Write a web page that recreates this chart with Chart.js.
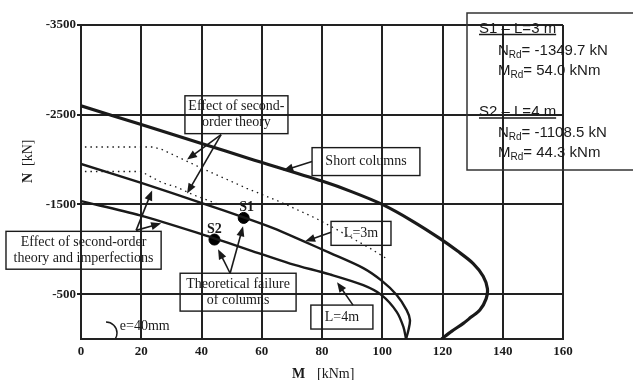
<!DOCTYPE html>
<html>
<head>
<meta charset="utf-8">
<script src="https://cdn.jsdelivr.net/npm/chart.js@4.4.0/dist/chart.umd.min.js"></script>
<style>
html, body { margin: 0; padding: 0; background: #fff; }
</style>
</head>
<body>
<canvas id="chart" width="633" height="380"></canvas>
<script>
// axis ticks
var mTicks = [0, 20, 40, 60, 80, 100, 120, 140, 160];
var nTicks = [-3500, -2500, -1500, -500];

// interaction curves (M in kNm, N in kN)
var shortM = [0, 20, 40, 56, 80, 90, 100, 110, 119.2, 125, 130.2, 133.5, 134.9, 134.5, 132.4, 129.5, 126.9, 123, 119.7];
var shortN = [-2600, -2390, -2180, -2010, -1760, -1640, -1500, -1315, -1119, -980, -841, -700, -563, -450, -322, -244, -174, -85, 0];

var l3M = [0, 20, 40.6, 54, 63.8, 73.8, 82.6, 93.7, 99.8, 104.8, 108.1, 109.2, 108.7, 107.9];
var l3N = [-1952, -1740, -1510, -1355, -1235, -1090, -960, -790, -650, -490, -322, -211, -100, 0];

var l4M = [0, 19.6, 39.5, 56.1, 69.4, 82.6, 93.7, 99.8, 104.8, 107, 107.9];
var l4N = [-1537, -1378, -1174, -989, -841, -720, -600, -489, -303, -137, 0];

// second-order theory (dotted)
var dotUpM = [1.3, 24, 27, 40, 55, 66, 78, 86, 96, 101];
var dotUpN = [-2140, -2140, -2110, -1905, -1680, -1530, -1345, -1200, -1010, -905];
var dotLoM = [1.3, 20, 22, 27, 32, 37, 45];
var dotLoN = [-1867, -1867, -1830, -1741, -1690, -1611, -1508];

// theoretical failure points
var failNames = ['S1', 'S2'];
var failM = [54.0, 44.3];
var failN = [-1349.7, -1108.5];

function pts(ms, ns) {
  return ms.map(function(m, i) { return { x: m, y: ns[i] }; });
}

var serif = '"Liberation Serif", "Times New Roman", serif';
var sans = '"Liberation Sans", Arial, sans-serif';
var ink = '#1a1a1a';

// annotation boxes and arrows, in data units
var boxes = [
  { m: [34.5, 68.7], n: [-2711, -2289], text: ['Effect of second-', 'order theory'],
    arrows: [[46.5, -2278, 35.2, -2000], [46.5, -2278, 35.2, -1622]] },
  { m: [76.7, 112.5], n: [-2133, -1822], text: ['Short columns'],
    arrows: [[76.7, -1978, 67.1, -1878]] },
  { m: [83.0, 102.9], n: [-1311, -1044], text: ['L=3m'],
    arrows: [[83.0, -1189, 74.4, -1089]] },
  { m: [76.3, 96.9], n: [-378, -111], text: ['L=4m'],
    arrows: [[90.3, -378, 85.0, -633]] },
  { m: [32.9, 71.4], n: [-733, -311], text: ['Theoretical failure', 'of columns'],
    arrows: [[49.5, -733, 45.5, -1000], [49.5, -733, 53.8, -1256]] },
  { m: [-24.9, 26.6], n: [-1200, -778], text: ['Effect of second-order', 'theory and imperfections'],
    arrows: [[18.3, -1211, 23.6, -1656], [18.3, -1211, 26.6, -1289]] }
];

function arrow(ctx, x1, y1, x2, y2) {
  var a = Math.atan2(y2 - y1, x2 - x1), L = 10, W = 4;
  ctx.beginPath();
  ctx.moveTo(x1, y1);
  ctx.lineTo(x2 - Math.cos(a) * L * 0.8, y2 - Math.sin(a) * L * 0.8);
  ctx.stroke();
  ctx.beginPath();
  ctx.moveTo(x2, y2);
  ctx.lineTo(x2 - Math.cos(a) * L - Math.sin(a) * W, y2 - Math.sin(a) * L + Math.cos(a) * W);
  ctx.lineTo(x2 - Math.cos(a) * L + Math.sin(a) * W, y2 - Math.sin(a) * L - Math.cos(a) * W);
  ctx.closePath();
  ctx.fill();
}

function subText(ctx, x, y, main, sub, rest) {
  ctx.font = '15px ' + sans;
  ctx.fillText(main, x, y);
  x += ctx.measureText(main).width;
  ctx.font = '10px ' + sans;
  ctx.fillText(sub, x, y + 3);
  x += ctx.measureText(sub).width;
  ctx.font = '15px ' + sans;
  ctx.fillText(rest, x, y);
}

function underlined(ctx, x, y, s) {
  ctx.font = '15px ' + sans;
  ctx.fillText(s, x, y);
  var w = ctx.measureText(s).width;
  ctx.beginPath();
  ctx.moveTo(x, y + 2);
  ctx.lineTo(x + w, y + 2);
  ctx.lineWidth = 1.3;
  ctx.stroke();
}

var notes = {
  id: 'notes',
  afterDraw: function(chart) {
    var ctx = chart.ctx, xs = chart.scales.x, ys = chart.scales.y;
    function px(m) { return xs.getPixelForValue(m); }
    function py(n) { return ys.getPixelForValue(n); }
    ctx.save();
    ctx.strokeStyle = ink;
    ctx.fillStyle = ink;

    // boxes + arrows
    boxes.forEach(function(b) {
      var x0 = px(b.m[0]), x1 = px(b.m[1]), y0 = py(b.n[0]), y1 = py(b.n[1]);
      ctx.lineWidth = 1.4;
      ctx.strokeRect(x0, y0, x1 - x0, y1 - y0);
      ctx.font = '14px ' + serif;
      ctx.textAlign = 'center';
      ctx.textBaseline = 'middle';
      var cy = (y0 + y1) / 2, lh = 16;
      b.text.forEach(function(t, i) {
        ctx.fillText(t, (x0 + x1) / 2, cy + (i - (b.text.length - 1) / 2) * lh);
      });
      ctx.lineWidth = 1.6;
      b.arrows.forEach(function(a) {
        arrow(ctx, px(a[0]), py(a[1]), px(a[2]), py(a[3]));
      });
    });

    // S1 / S2 labels
    ctx.font = 'bold 14px ' + serif;
    ctx.textAlign = 'center';
    ctx.textBaseline = 'alphabetic';
    failNames.forEach(function(s, i) {
      ctx.fillText(s, px(failM[i]) + (i === 0 ? 3 : 0), py(failN[i]) - 7);
    });

    // eccentricity note
    var ex = px(8.3), ey = py(-67);
    ctx.lineWidth = 1.5;
    ctx.beginPath();
    ctx.arc(ex, ey, 11, -Math.PI / 2, Math.PI / 6);
    ctx.stroke();
    ctx.font = '14px ' + serif;
    ctx.textAlign = 'left';
    ctx.fillText('e=40mm', px(12.9), py(-100));

    // axis titles
    ctx.textBaseline = 'alphabetic';
    ctx.font = 'bold 14px ' + serif;
    ctx.fillText('M', 292, 378);
    ctx.font = '14px ' + serif;
    ctx.fillText('[kNm]', 317, 378);
    ctx.save();
    ctx.translate(32, 183);
    ctx.rotate(-Math.PI / 2);
    ctx.font = 'bold 14px ' + serif;
    ctx.fillText('N', 0, 0);
    ctx.font = '14px ' + serif;
    ctx.fillText('[kN]', 17, 0);
    ctx.restore();

    // results box
    ctx.lineWidth = 1.5;
    ctx.strokeStyle = '#333';
    ctx.strokeRect(467, 13, 200, 157);
    ctx.strokeStyle = ink;
    ctx.textAlign = 'left';
    underlined(ctx, 479, 32.5, 'S1 \u2013 L=3 m');
    subText(ctx, 498, 55, 'N', 'Rd', '= -1349.7 kN');
    subText(ctx, 498, 75, 'M', 'Rd', '= 54.0 kNm');
    underlined(ctx, 479, 116, 'S2 \u2013 L=4 m');
    subText(ctx, 498, 136.5, 'N', 'Rd', '= -1108.5 kN');
    subText(ctx, 498, 156.5, 'M', 'Rd', '= 44.3 kNm');
    ctx.restore();
  }
};

function curve(data, width, dash, tension) {
  return {
    data: data, showLine: true, borderColor: ink, borderWidth: width,
    borderDash: dash, pointRadius: 0, tension: tension, fill: false
  };
}

new Chart(document.getElementById('chart'), {
  type: 'scatter',
  data: {
    datasets: [
      curve(pts(shortM, shortN), 3.2, [], 0.3),
      curve(pts(l3M, l3N), 2.4, [], 0.3),
      curve(pts(l4M, l4N), 2.4, [], 0.3),
      curve(pts(dotUpM, dotUpN), 1.3, [1.5, 4], 0),
      curve(pts(dotLoM, dotLoN), 1.3, [1.5, 4], 0),
      {
        data: pts(failM, failN), showLine: false,
        pointRadius: 5.5, pointBackgroundColor: '#000', pointBorderColor: '#000'
      }
    ]
  },
  options: {
    responsive: false,
    animation: false,
    devicePixelRatio: 1,
    layout: { padding: { top: 25, right: 70, left: 0, bottom: 0 } },
    plugins: { legend: { display: false }, tooltip: { enabled: false } },
    scales: {
      x: {
        type: 'linear', min: 0, max: 160,
        afterBuildTicks: function(s) { s.ticks = mTicks.map(function(v) { return { value: v }; }); },
        afterFit: function(s) { s.height = 41; },
        ticks: { color: ink, padding: 5, font: { family: serif, size: 13, weight: 'bold' },
                 callback: function(v) { return String(v); } },
        grid: { color: '#222', lineWidth: 2, drawTicks: false },
        border: { color: '#222', width: 2 }
      },
      y: {
        type: 'linear', min: -3500, max: 0, reverse: true,
        afterBuildTicks: function(s) { s.ticks = nTicks.map(function(v) { return { value: v }; }); },
        afterFit: function(s) { s.width = 81; },
        ticks: { color: ink, padding: 1, font: { family: serif, size: 13, weight: 'bold' },
                 callback: function(v) { return String(v); } },
        grid: { color: '#222', lineWidth: 2, tickLength: 4 },
        border: { color: '#222', width: 2 }
      }
    }
  },
  plugins: [notes]
});
</script>
</body>
</html>
